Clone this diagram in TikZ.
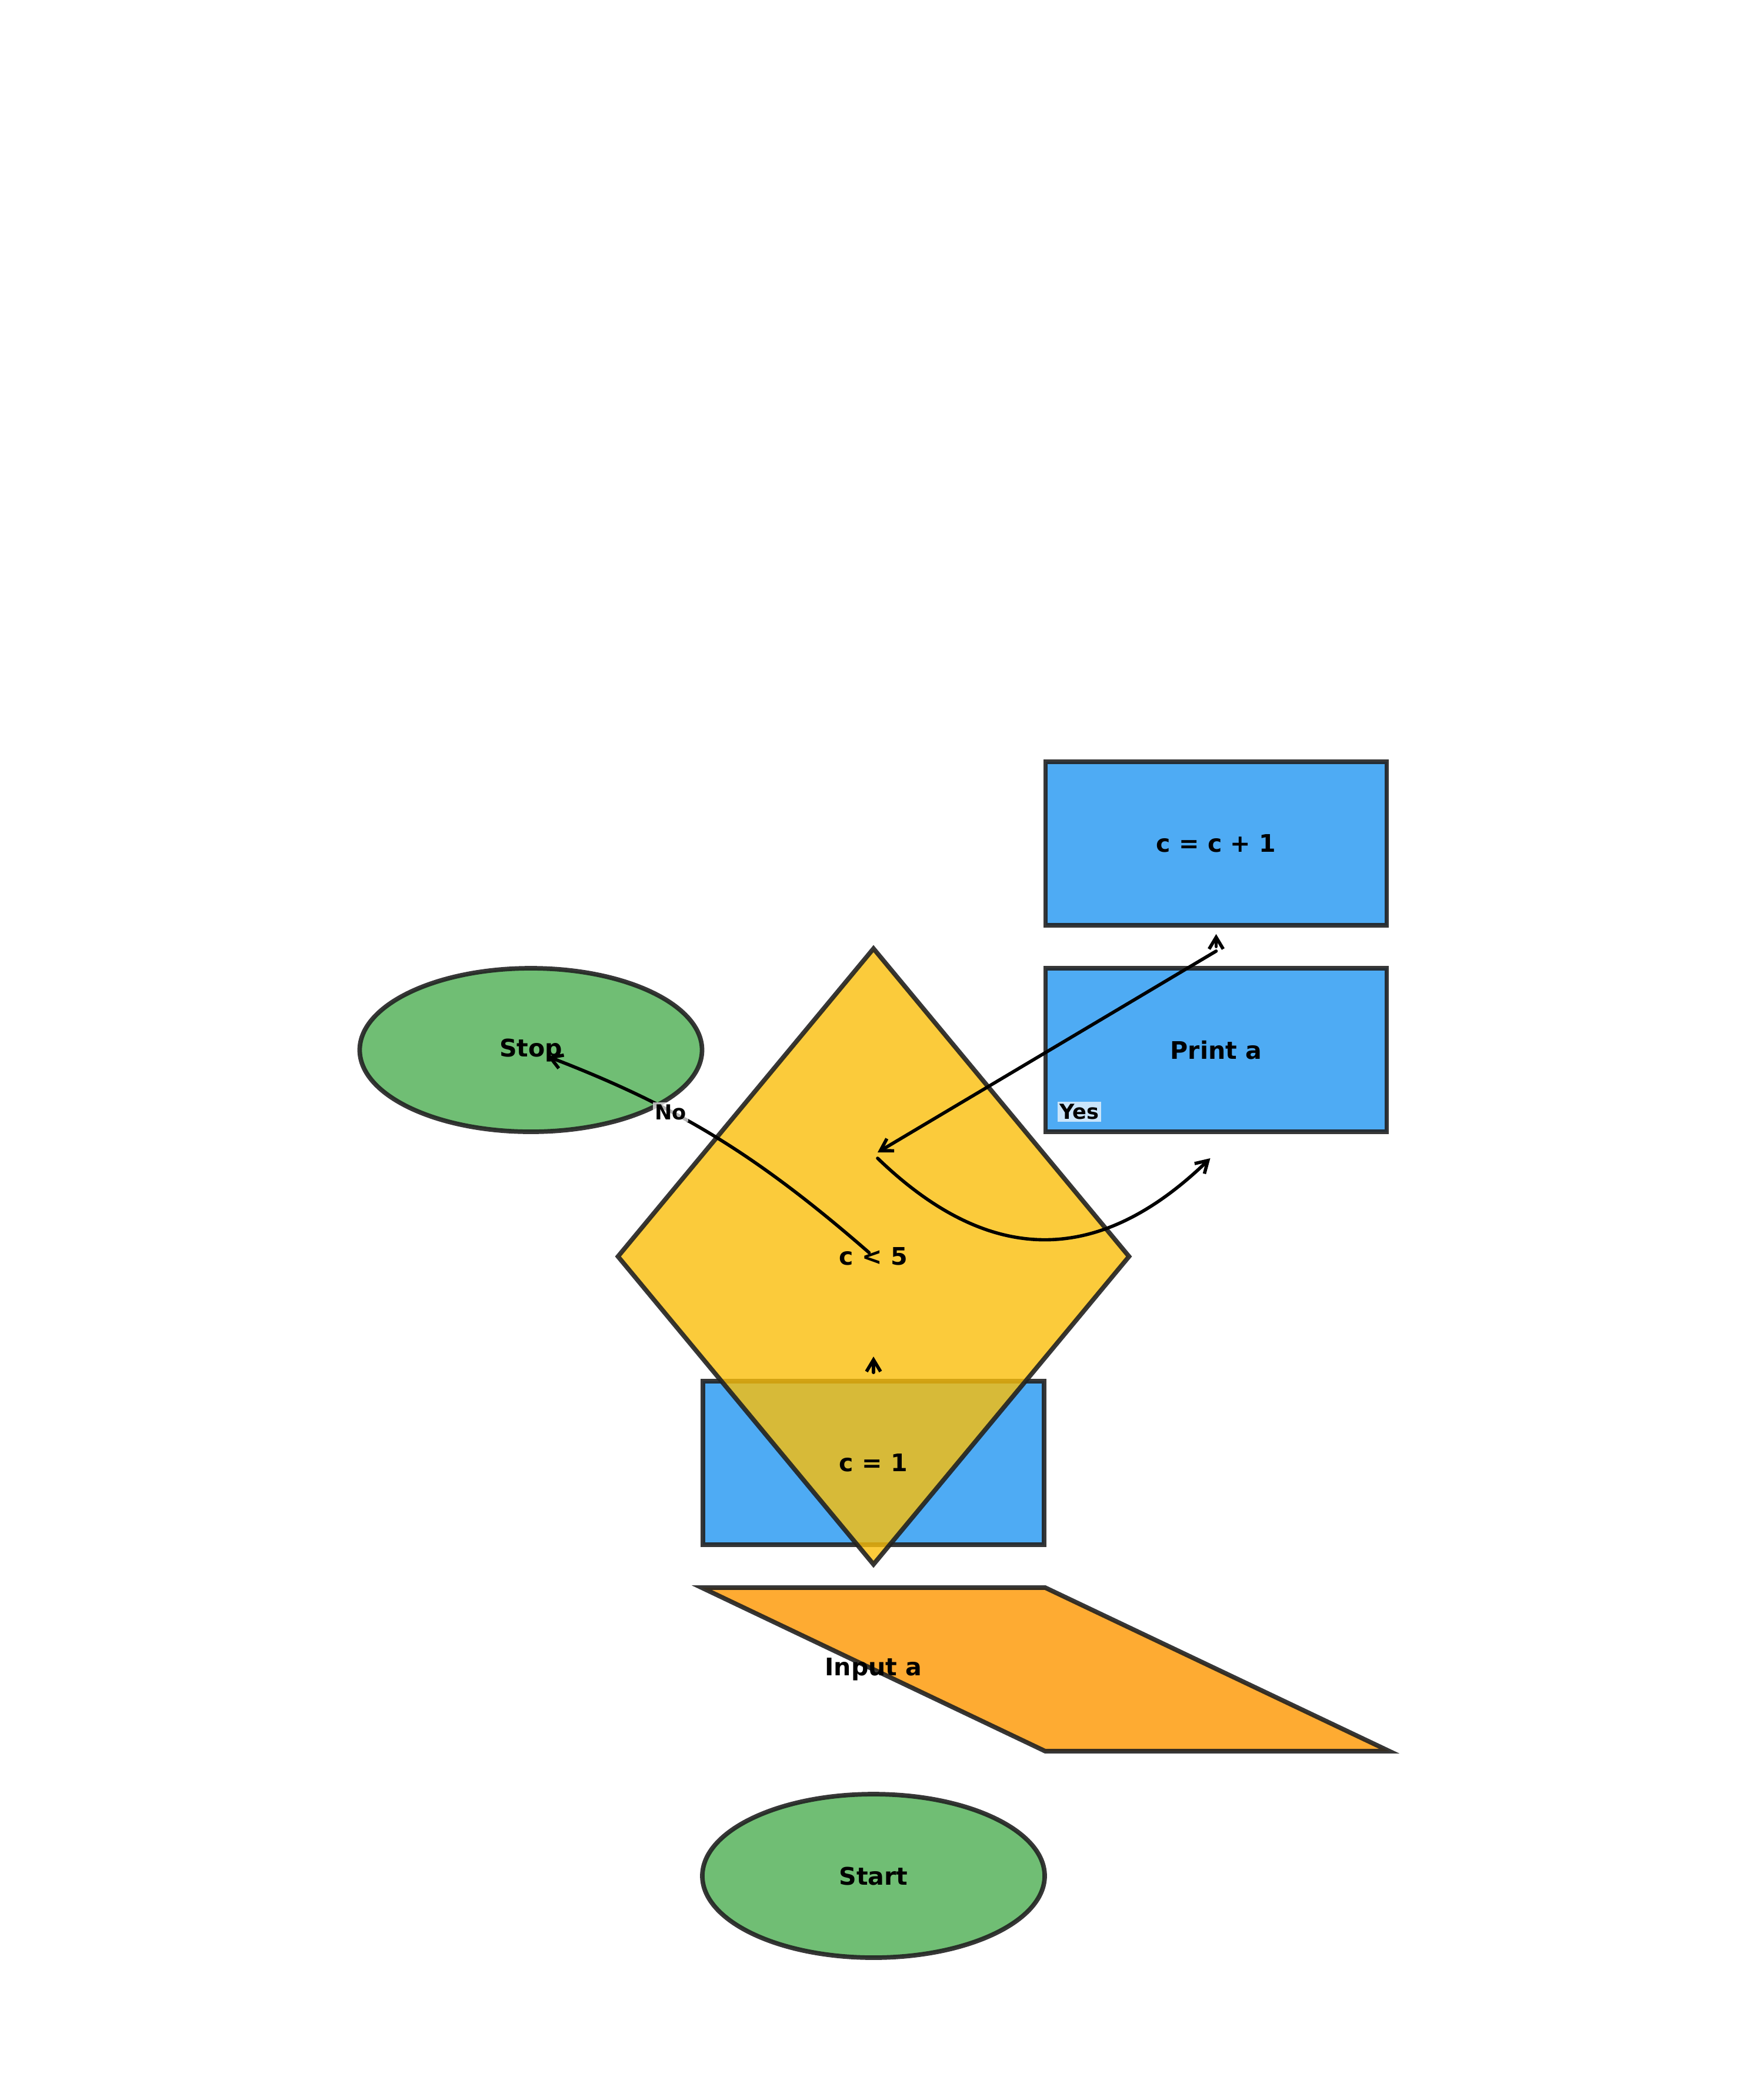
\documentclass[tikz,border=0pt]{standalone}
\usepackage{fontspec}
\setmainfont{DejaVu Sans}
\usetikzlibrary{arrows.meta, positioning, shapes.geometric}
\definecolor{termgreen}{RGB}{112,190,116}
\definecolor{procblue}{RGB}{78,171,244}
\definecolor{ioorange}{RGB}{254,171,50}
\definecolor{testamber}{RGB}{250,190,10}
\definecolor{edgegray}{RGB}{33,33,33}
\tikzstyle{boxbase}=[draw=edgegray, draw opacity=0.9, line width=2.2pt, inner sep=0pt, font=\fontsize{11.7}{14}\selectfont\bfseries]
\tikzstyle{terminal}=[boxbase, ellipse, fill=termgreen, minimum width=5.82cm, minimum height=2.78cm]
\tikzstyle{process}=[boxbase, rectangle, fill=procblue, minimum width=5.8cm, minimum height=2.78cm]
\tikzstyle{decision}=[boxbase, diamond, fill=testamber, fill opacity=0.8, text opacity=1, minimum width=8.72cm, minimum height=10.5cm]
\tikzstyle{iobox}=[draw=edgegray, draw opacity=0.9, line width=2.2pt, fill=ioorange]
\tikzstyle{plain}=[inner sep=0pt, font=\fontsize{11.7}{14}\selectfont\bfseries]
\tikzstyle{flow}=[->, line width=1.6pt, line cap=round]
\tikzstyle{tag}=[fill=white, fill opacity=0.7, text opacity=1, inner sep=1pt, font=\fontsize{10}{12}\selectfont\bfseries]

\begin{document}
\begin{tikzpicture}[node distance=3.51cm and 5.825cm, on grid, >={Straight Barb[length=2mm,width=2.4mm]}]
  \useasboundingbox (0,0) rectangle (29.7,-35.7);
  \node[terminal] (start) at (14.85,-31.89) {Start};
  \coordinate[above=of start] (inpos);
  \draw[iobox] ([shift={(-2.92,1.39)}]inpos) -- ++(5.84,0) -- ++(5.85,-2.78) -- ++(-5.85,0) -- cycle;
  \node[plain] (input) at (inpos) {Input a};
  \node[process] (init) [above=of input] {};
  \node[decision] (test) [above=of init] {c < 5};
  \node[plain] (initlbl) at (init) {c = 1};
  \node[process] (print) [above right=of test] {Print a};
  \node[process] (incr) [above=of print] {c = c + 1};
  \node[terminal] (stop) [above left=of test] {Stop};

  \coordinate (hub) at ([shift={(0.07,1.77)}]test.center);
  \coordinate (yestip) at ([shift={(-0.1,-1.84)}]print.center);

  \draw[flow] ([yshift=1.1mm]init.north) -- ([yshift=3.8mm]init.north);
  \draw[flow, shorten <=3.3mm, shorten >=1.1mm] (print.north) -- (incr.south);
  \draw[flow] ([yshift=-4mm]incr.south) -- (hub);
  \draw[flow] ([yshift=-1mm]hub) to[bend right=44, looseness=1.2] (yestip);
  \draw[flow, shorten <=1mm, shorten >=3mm] (test.center) to[bend right=10] node[tag, pos=0.63] (nolbl) {No} (stop.center);
  \node[tag] (yeslbl) at ([shift={(3.5,2.46)}]test.center) {Yes};
\end{tikzpicture}
\end{document}
